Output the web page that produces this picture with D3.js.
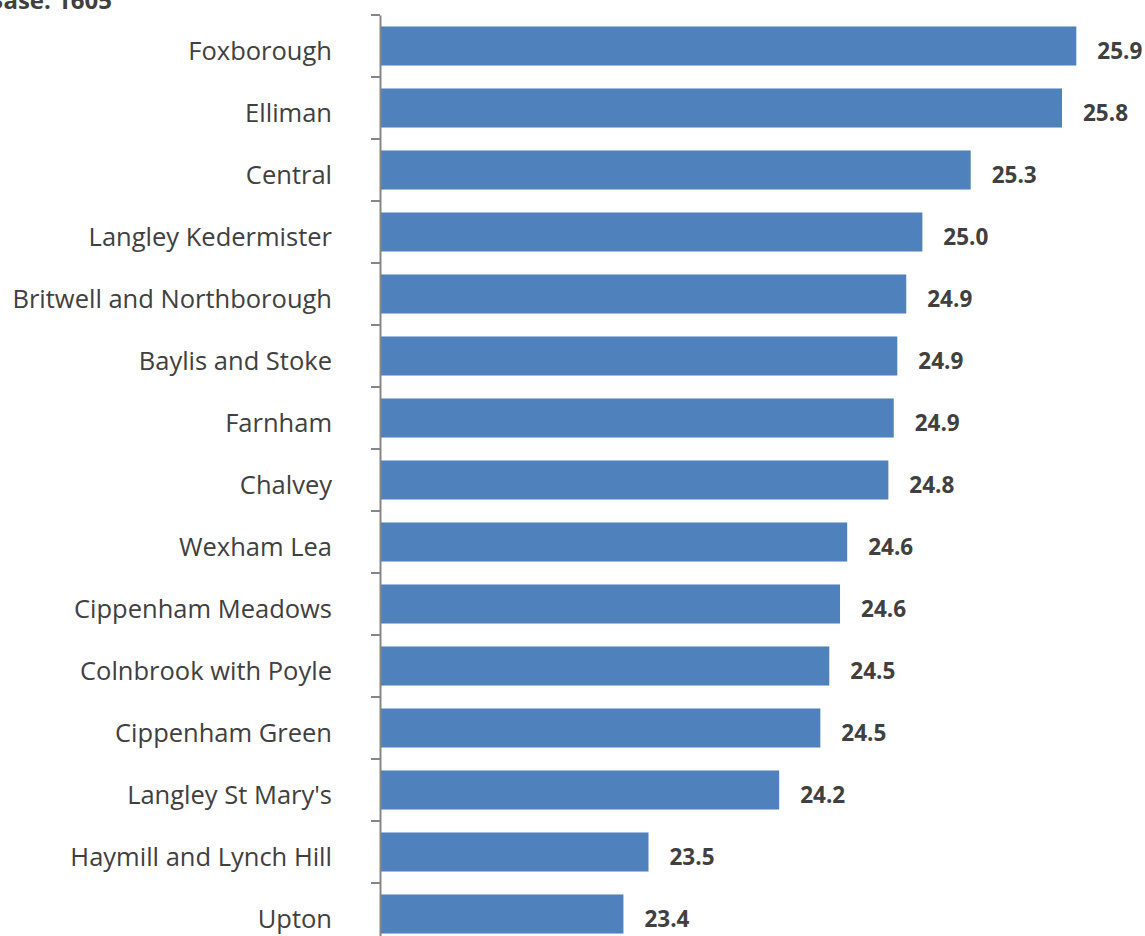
<!DOCTYPE html>
<html>
<head>
<meta charset="utf-8">
<script src="https://cdn.jsdelivr.net/npm/d3@7"></script>
<style>
  html, body { margin: 0; padding: 0; background: #fff; overflow: hidden; }
  svg { display: block; }
</style>
</head>
<body>
<svg id="chart" width="1145" height="936"></svg>
<script>
const categories = [
  "Foxborough", "Elliman", "Central", "Langley Kedermister",
  "Britwell and Northborough", "Baylis and Stoke", "Farnham", "Chalvey",
  "Wexham Lea", "Cippenham Meadows", "Colnbrook with Poyle",
  "Cippenham Green", "Langley St Mary's", "Haymill and Lynch Hill", "Upton"
];
const values = [
  25.89, 25.81, 25.30, 25.03, 24.94, 24.89, 24.87, 24.84,
  24.61, 24.57, 24.51, 24.46, 24.23, 23.50, 23.36
];
const baseNote = "Base: 1605";
const xDomain = [22, 27];

const svg = d3.select("#chart");
const textColor = "#404040";
const font = "'Open Sans', 'DejaVu Sans', sans-serif";

const axisX = 380;
const x = d3.scaleLinear().domain(xDomain).range([axisX, axisX + 179 * (xDomain[1] - xDomain[0])]);
const y = d3.scaleBand().domain(categories).range([15, 945])
  .paddingInner(0.37).paddingOuter(0.185);

const data = categories.map((c, i) => ({ cat: c, val: values[i] }));

// bars
svg.append("g").selectAll("rect").data(data).join("rect")
  .attr("x", x(xDomain[0]))
  .attr("y", d => y(d.cat))
  .attr("width", d => x(d.val) - x(xDomain[0]))
  .attr("height", y.bandwidth())
  .attr("fill", "#4F81BD");

// value labels
svg.append("g").selectAll("text").data(data).join("text")
  .attr("x", d => x(d.val) + 21)
  .attr("y", d => y(d.cat) + y.bandwidth() / 2 + 13)
  .attr("font-family", font)
  .attr("font-size", 22.5)
  .attr("font-weight", "bold")
  .attr("fill", textColor)
  .text(d => d.val.toFixed(1));

// axis with category labels
const axis = svg.append("g")
  .attr("transform", `translate(${axisX},0)`)
  .call(d3.axisLeft(y).tickSize(0).tickSizeOuter(0).tickPadding(48));
axis.select(".domain").attr("stroke", "#868686").attr("stroke-width", 2);
axis.selectAll(".tick text")
  .attr("font-family", font)
  .attr("font-size", 25.5)
  .attr("fill", textColor)
  .attr("dy", "0.55em");

// tick marks at band boundaries
const step = y.step();
const bounds = categories.map(c => y(c) - step * y.paddingOuter()).concat([y.range()[1]]);
svg.append("g").selectAll("line").data(bounds).join("line")
  .attr("x1", axisX - 9).attr("x2", axisX)
  .attr("y1", d => d).attr("y2", d => d)
  .attr("stroke", "#868686").attr("stroke-width", 2);

// base note
svg.append("text")
  .attr("x", 112).attr("y", 9)
  .attr("text-anchor", "end")
  .attr("font-family", font)
  .attr("font-size", 24)
  .attr("font-weight", "bold")
  .attr("fill", textColor)
  .text(baseNote);
</script>
</body>
</html>
